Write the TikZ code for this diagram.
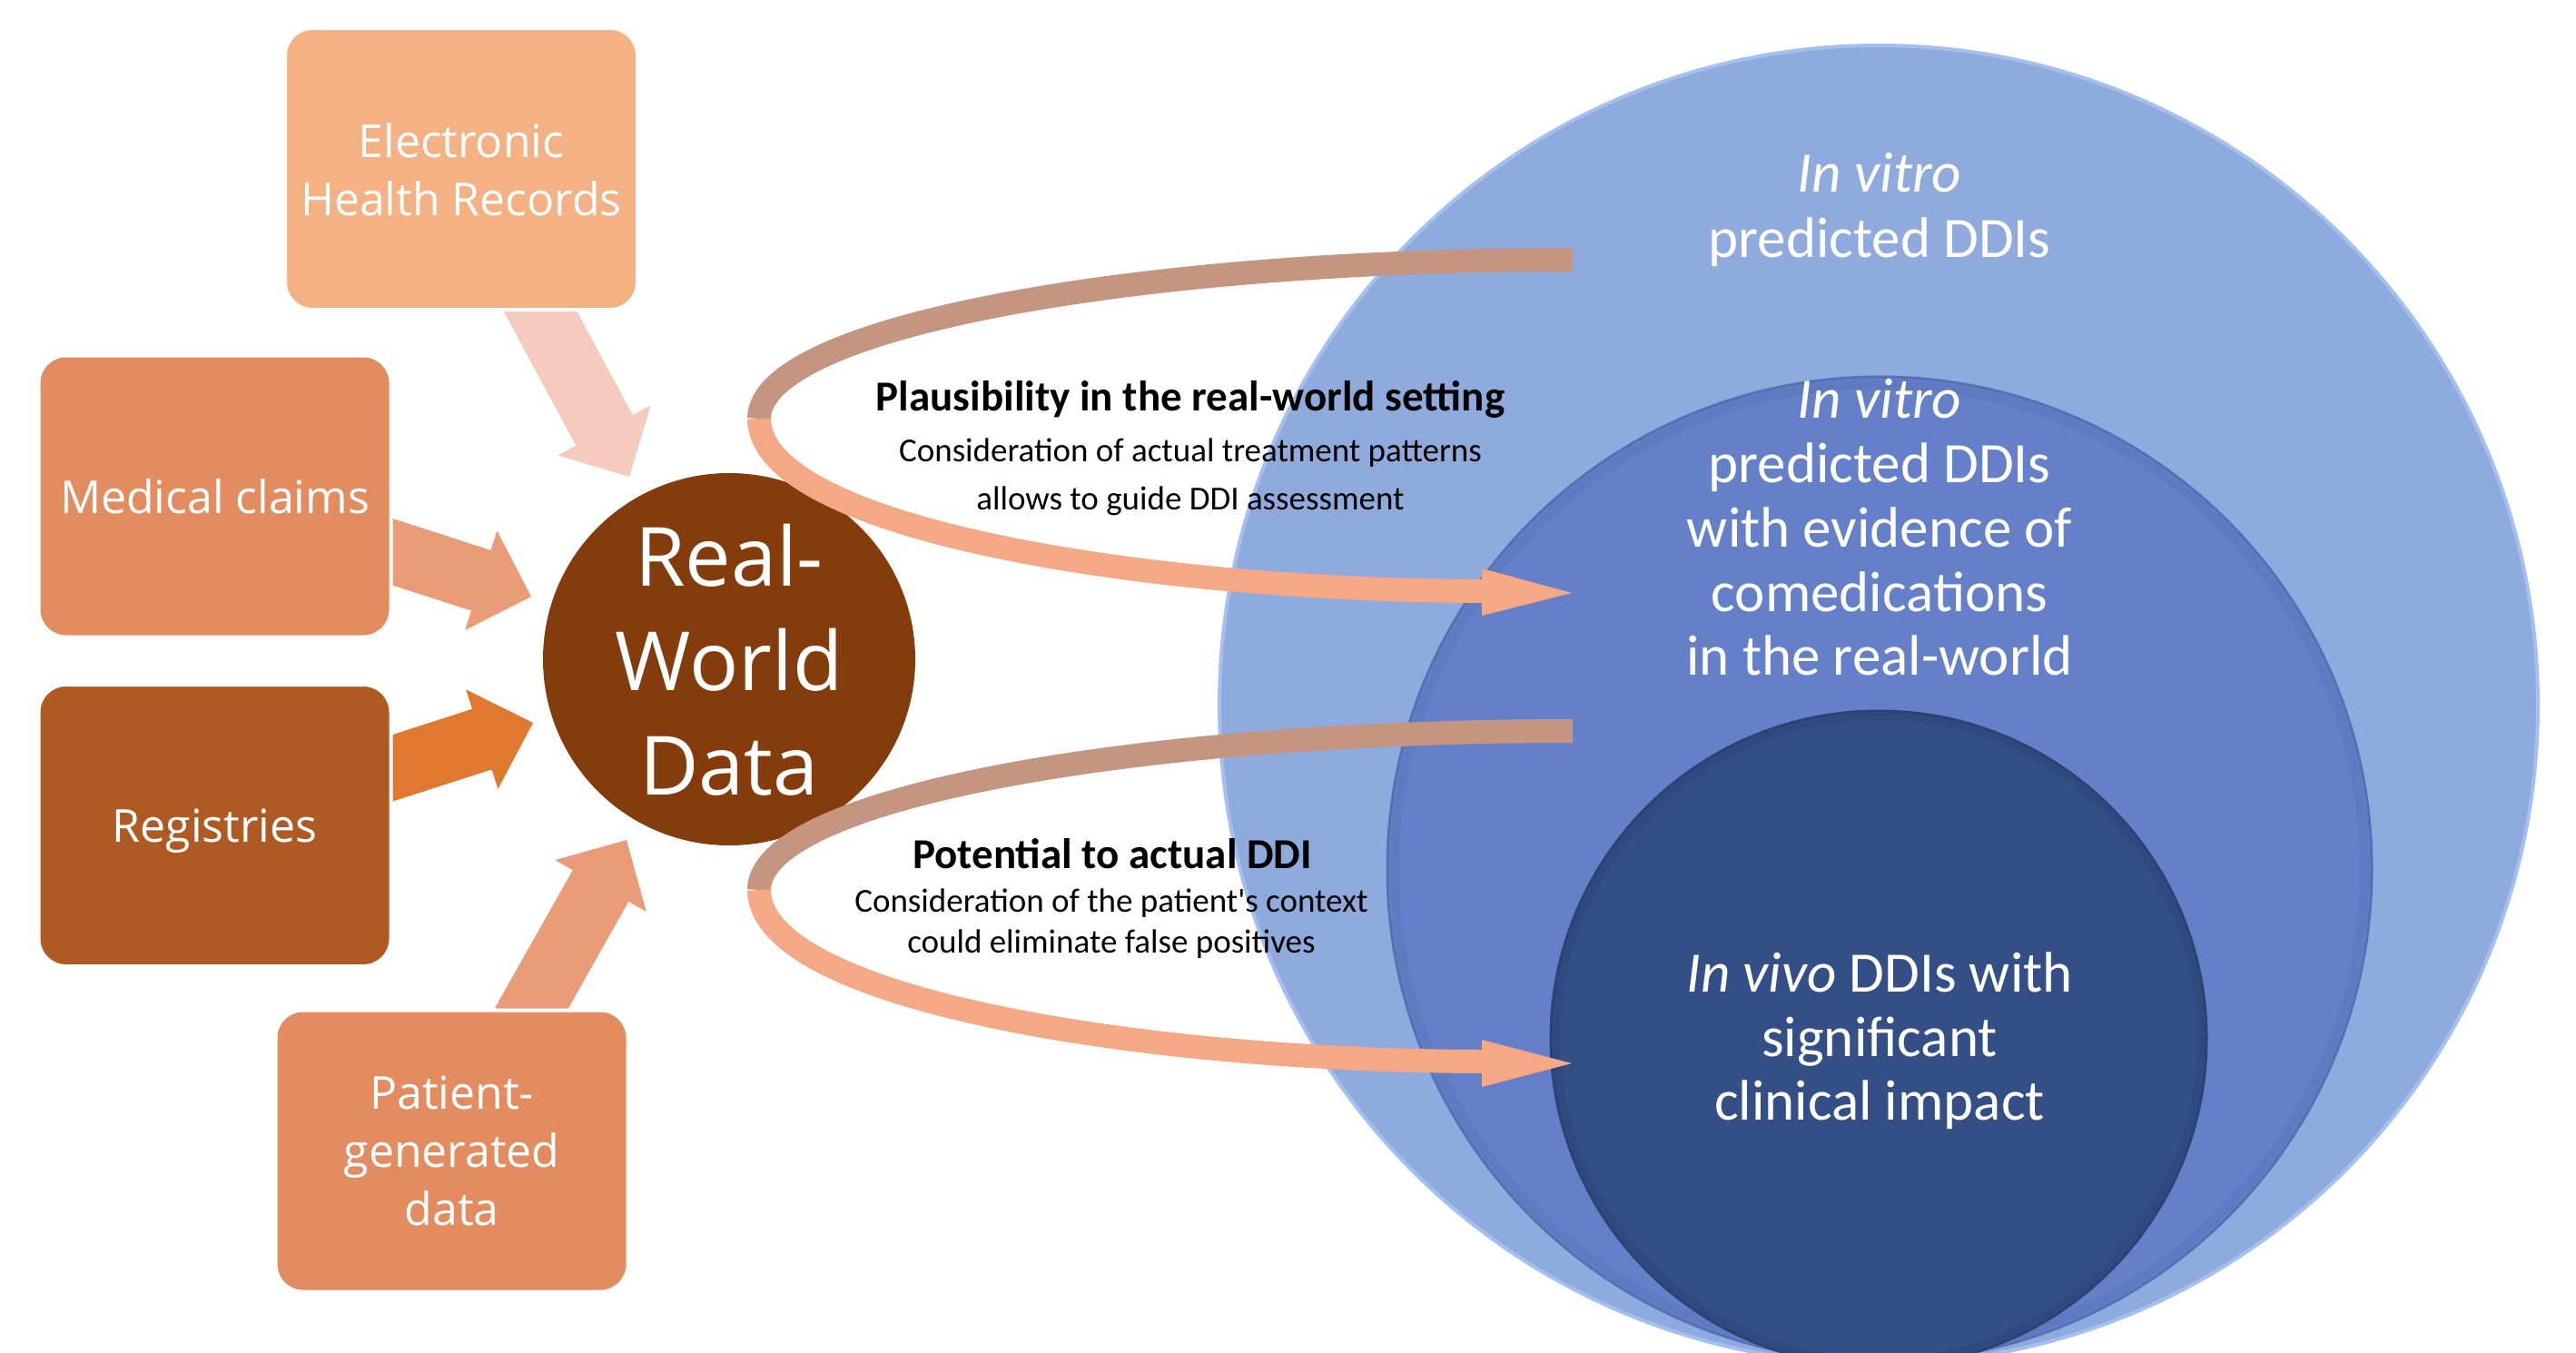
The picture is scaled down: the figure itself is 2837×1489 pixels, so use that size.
\documentclass[tikz,border=0pt]{standalone}
\usepackage{fontspec}
\setmainfont{Carlito}
\newfontfamily\segoe{Open Sans}
\usetikzlibrary{calc}
\definecolor{ehrC}{HTML}{F4B183}
\definecolor{medC}{HTML}{E38C60}
\definecolor{regC}{HTML}{AF5A22}
\definecolor{rwdC}{HTML}{843C0C}
\definecolor{aEhr}{HTML}{F5CBBD}
\definecolor{aMed}{HTML}{EA9C79}
\definecolor{aReg}{HTML}{E07830}
\definecolor{bandBack}{HTML}{C69581}
\definecolor{bandFront}{HTML}{F4A886}
\definecolor{cOne}{HTML}{8FAADC}
\definecolor{cTwo}{HTML}{6580C8}
\definecolor{cThree}{HTML}{344F86}
\definecolor{cOneRim}{HTML}{A5BFF0}
\definecolor{cTwoRim}{HTML}{5570B4}
\definecolor{cThreeRim}{HTML}{2B4272}
% block arrow: tail, tip, shaft half width, head half width, head length, colour
\newcommand{\blockarrow}[6]{%
  \coordinate (ba) at ($(#2)!#5!(#1)$);
  \fill[#6] ($(#1)!#3!90:(#2)$) -- ($(ba)!#3!-90:(#1)$) -- ($(ba)!#4!-90:(#1)$) -- (#2)
    -- ($(ba)!#4!90:(#1)$) -- ($(ba)!#3!90:(#1)$) -- ($(#1)!#3!-90:(#2)$) -- cycle;}
\begin{document}
\begin{tikzpicture}[x=1pt,y=-1pt,
  srcbox/.style={rounded corners=30pt, draw=white, line width=4pt, minimum width=388pt,
    minimum height=310pt, inner sep=0pt, text=white, align=center, text depth=0pt,
    font=\segoe\fontsize{50}{64}\selectfont},
  circtext/.style={anchor=south, align=center, text=white, inner sep=0pt, text depth=0pt},
  band/.style={line width=26pt},
  title/.style={anchor=base, font=\bfseries\fontsize{47}{56}\selectfont, text=black},
  subtext/.style={anchor=south, align=center, inner sep=0pt, text depth=0pt, text=black}]
\useasboundingbox (0,0) rectangle (2837,1489);
\clip (0,0) rectangle (2837,1489);
\fill[white] (0,0) rectangle (2837,1489);

% nested circles
\node[circle, fill=cOne, draw=cOneRim, line width=4pt, minimum size=1452pt, inner sep=0pt] (outer) at (2069,776) {};
\node[circle, fill=cTwo, draw=cTwoRim, line width=3pt, minimum size=1084pt, inner sep=0pt] (middle) at (2070,957) {};
\draw[cTwoRim, opacity=0.35, line width=10pt] (middle.center) circle[radius=534];
\node[circle, fill=cThree, draw=cThreeRim, line width=3pt, minimum size=722pt, inner sep=0pt] (inner) at (2069,1144) {};
\draw[cThreeRim, opacity=0.4, line width=8pt] (inner.center) circle[radius=355];

\node[circtext, font=\fontsize{63}{72}\selectfont] (outerText) at (2070,284) {\textit{In vitro}\\predicted DDIs};
\node[circtext, font=\fontsize{63}{70.75}\selectfont] (middleText) at (2070,744) {\textit{In vitro}\\predicted DDIs\\with evidence of\\comedications\\in the real-world};
\node[circtext, font=\fontsize{63}{70.5}\selectfont] (innerText) at (2070,1234) {\textit{In vivo} DDIs with\\significant\\clinical impact};

% block arrows into Real-World Data
\coordinate (ehrTail) at (586,326);   \coordinate (ehrTip) at (693,525);
\coordinate (medTail) at (410,600.6); \coordinate (medTip) at (585,657);
\coordinate (regTail) at (410,853);   \coordinate (regTip) at (587,796);
\coordinate (pgdTail) at (576,1127);  \coordinate (pgdTip) at (690,925);
\blockarrow{ehrTail}{ehrTip}{35.5pt}{58pt}{58pt}{aEhr}
\blockarrow{medTail}{medTip}{35pt}{57.5pt}{58pt}{aMed}
\blockarrow{regTail}{regTip}{35pt}{57.5pt}{59pt}{aReg}
\blockarrow{pgdTail}{pgdTip}{35.3pt}{57.7pt}{58pt}{aMed}

% source boxes
\node[srcbox, fill=ehrC] (ehr) at (508,186) {Electronic\\Health Records};
\node[srcbox, fill=medC] (med) at (236.5,546.5) {Medical claims};
\node[srcbox, fill=regC] (reg) at (236.5,909) {Registries};
\node[srcbox, fill=medC] (pgd) at (497.5,1267.5) {Patient-\\generated\\data};

% Real-World Data
\node[circle, fill=rwdC, minimum size=410pt, inner sep=0pt] (rwd) at (803,726) {};
\node[align=center, text=white, inner sep=0pt, text depth=0pt, font=\segoe\fontsize{90}{115}\selectfont] (rwdText) at (rwd.center) {Real-\\World\\Data};

% upper loop arrow
\coordinate (loopAstart) at (1732,286);
\coordinate (loopAleft) at (836,461);
\coordinate (loopAend) at (1634,651);
\coordinate (loopAtip) at (1731,653);
\draw[band, bandBack] (loopAstart) .. controls (1250,286) and (836,360) .. (loopAleft);
\draw[band, bandFront] (loopAleft) .. controls (836,580) and (1250,650) .. (loopAend);
\fill[bandFront] (1632,626) -- (loopAtip) -- (1632,678) -- cycle;

% lower loop arrow
\coordinate (loopBstart) at (1732,805);
\coordinate (loopBleft) at (836,980);
\coordinate (loopBend) at (1634,1169);
\coordinate (loopBtip) at (1731,1171);
\draw[band, bandBack] (loopBstart) .. controls (1250,805) and (836,879) .. (loopBleft);
\draw[band, bandFront] (loopBleft) .. controls (836,1099) and (1250,1168) .. (loopBend);
\fill[bandFront] (1632,1145) -- (loopBtip) -- (1632,1197) -- cycle;

% loop texts
\node[title] (plaus) at (1311,452) {Plausibility in the real-world setting};
\node[subtext, font=\fontsize{37}{53}\selectfont] (plausSub) at (1311,562) {Consideration of actual treatment patterns\\allows to guide DDI assessment};
\node[title] (poten) at (1225,956) {Potential to actual DDI};
\node[subtext, font=\fontsize{37}{45}\selectfont] (potenSub) at (1224,1050) {Consideration of the patient\textquotesingle s context\\could eliminate false positives};
\end{tikzpicture}
\end{document}
